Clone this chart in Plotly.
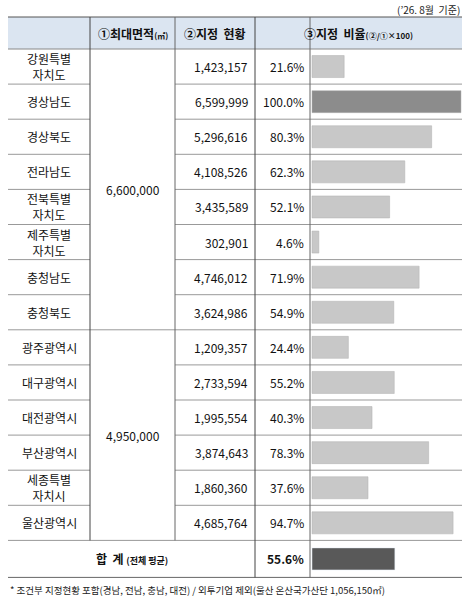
import plotly.graph_objects as go

regions = ["강원특별<br>자치도","경상남도","경상북도","전라남도","전북특별<br>자치도","제주특별<br>자치도","충청남도","충청북도",
           "광주광역시","대구광역시","대전광역시","부산광역시","세종특별<br>자치시","울산광역시"]
status = ["1,423,157","6,599,999","5,296,616","4,108,526","3,435,589","302,901","4,746,012","3,624,986",
          "1,209,357","2,733,594","1,995,554","3,874,643","1,860,360","4,685,764"]
ratios = [21.6,100.0,80.3,62.3,52.1,4.6,71.9,54.9,24.4,55.2,40.3,78.3,37.6,94.7]
max_area_labels = ["6,600,000","4,950,000"]
group_sizes = [8,6]
total_ratio = 55.6

W,H = 467,600
top, rh = 49, 35.1
xL, x1, x2, x3, x4, xR = 8, 90, 175, 255, 310, 462
bx0, bw = 312, 149

fig = go.Figure()
shapes=[]; ann=[]
font = dict(family="Noto Sans CJK KR", size=12, color="#111")

shapes.append(dict(type="rect", x0=xL, x1=xR, y0=17, y1=top, fillcolor="#dbe5f1", line_width=0, layer="below"))
shapes.append(dict(type="line", x0=xL, x1=xR, y0=17, y1=17, line=dict(color="#555", width=1)))
shapes.append(dict(type="line", x0=xL, x1=xR, y0=top, y1=top, line=dict(color="#888", width=1)))
ann.append(dict(x=462, y=9, text="(’26. 8월  기준)", xanchor="right", showarrow=False, font=dict(family="Noto Sans CJK KR", size=10, color="#222")))
ann.append(dict(x=(x1+x2)/2, y=33, text="<b>①최대면적</b><span style='font-size:8px'><b>(㎡)</b></span>", showarrow=False, font=font))
ann.append(dict(x=(x2+x3)/2, y=33, text="<b>②지정  현황</b>", showarrow=False, font=font))
ann.append(dict(x=(x3+xR)/2, y=33, text="<b>③지정  비율</b><span style='font-size:8px'><b>(②/①×100)</b></span>", showarrow=False, font=font))

n=len(regions)
ys=[top+rh*(i+0.5) for i in range(n)]
for i in range(n):
    yb=top+rh*(i+1)
    shapes.append(dict(type="line", x0=xL, x1=x1, y0=yb, y1=yb, line=dict(color="#999", width=1)))
    shapes.append(dict(type="line", x0=x2, x1=xR, y0=yb, y1=yb, line=dict(color="#999", width=1)))
    ann.append(dict(x=(xL+x1)/2, y=ys[i], text=regions[i], showarrow=False, font=font))
    ann.append(dict(x=250, y=ys[i], text=status[i], xanchor="right", showarrow=False, font=font))
    ann.append(dict(x=306, y=ys[i], text=f"{ratios[i]:.1f}%", xanchor="right", showarrow=False, font=font))
start=0
for lab,g in zip(max_area_labels,group_sizes):
    y0=top+rh*start; y1=top+rh*(start+g)
    shapes.append(dict(type="line", x0=x1, x1=x2, y0=y1, y1=y1, line=dict(color="#999", width=1)))
    ann.append(dict(x=(x1+x2)/2, y=(y0+y1)/2, text=lab, showarrow=False, font=font))
    start+=g
tb=top+rh*n; te=tb+37
shapes.append(dict(type="line", x0=xL, x1=xR, y0=te, y1=te, line=dict(color="#666", width=1)))
ann.append(dict(x=(xL+x3)/2, y=(tb+te)/2, text="<b>합  계</b> <span style='font-size:9px'><b>(전체 평균)</b></span>", showarrow=False, font=font))
ann.append(dict(x=306, y=(tb+te)/2, text=f"<b>{total_ratio:.1f}%</b>", xanchor="right", showarrow=False, font=font))
for x,c in [(x1,"#444"),(x2,"#666"),(x3,"#444"),(x4,"#666")]:
    y1 = te if x in (x3,x4) else tb
    shapes.append(dict(type="line", x0=x, x1=x, y0=17, y1=y1, line=dict(color=c, width=1)))
ann.append(dict(x=8, y=590, xanchor="left", text="* 조건부 지정현황 포함(경남, 전남, 충남, 대전) / 외투기업 제외(울산 온산국가산단 1,056,150㎡)",
                showarrow=False, font=dict(family="Noto Sans CJK KR", size=9.5, color="#222")))

colors=["#8c8c8c" if r>=100 else "#c8c8c8" for r in ratios]
fig.add_trace(go.Bar(x=[r*bw/100 for r in ratios], y=ys, base=bx0, orientation="h", width=22,
                     marker=dict(color=colors, line=dict(color="#b0b0b0", width=0.5)), hoverinfo="skip"))
fig.add_trace(go.Bar(x=[total_ratio*bw/100], y=[(tb+te)/2], base=bx0, orientation="h", width=22,
                     marker=dict(color="#595959"), hoverinfo="skip"))

fig.update_layout(width=W, height=H, margin=dict(l=0,r=0,t=0,b=0), showlegend=False,
                  plot_bgcolor="white", paper_bgcolor="white", shapes=shapes, annotations=ann,
                  xaxis=dict(range=[0,W], visible=False, fixedrange=True),
                  yaxis=dict(range=[H,0], visible=False, fixedrange=True))
fig.write_html("out.html", config={"displayModeBar": False},
               post_script="document.body.style.margin='0';document.body.style.overflow='hidden';")
